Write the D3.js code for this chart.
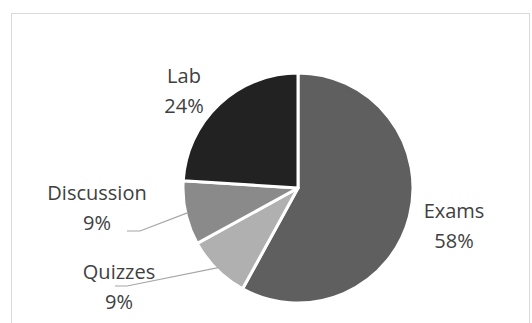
<!DOCTYPE html>
<html><head><meta charset="utf-8">
<script src="https://cdn.jsdelivr.net/npm/d3@7"></script>
<style>html,body{margin:0;padding:0;background:#fff;overflow:hidden}</style>
</head><body><svg id="c" width="532" height="323"></svg>
<script>
const categories = ["Exams", "Quizzes", "Discussion", "Lab"];
const values = [58, 9, 9, 24];
const colors = ["#5f5f5f", "#b0b0b0", "#8a8a8a", "#222222"];

// label layout: first-line baseline offsets from pie center, plus leader line start points
const labelLayout = {
  Exams: {dx: 156, dy: 30, leader: null},
  Quizzes: {dx: -179, dy: 91, leader: [[-183, 98], [-171, 98]]},
  Discussion: {dx: -201, dy: 12, leader: [[-171, 43], [-158, 43]]},
  Lab: {dx: -114, dy: -105, leader: null}
};

const svg = d3.select("#c");
svg.append("rect").attr("x", 11.5).attr("y", 13.5).attr("width", 518).attr("height", 330)
  .attr("fill", "#fff").attr("stroke", "#d9d9d9").attr("stroke-width", 1);

const cx = 298, cy = 188, r = 115;
const g = svg.append("g").attr("transform", `translate(${cx},${cy})`);
const data = categories.map((c, i) => ({name: c, value: values[i], color: colors[i]}));
const pie = d3.pie().value(d => d.value).sort(null);
const arc = d3.arc().innerRadius(0).outerRadius(r);
const arcs = pie(data);
g.selectAll("path.slice").data(arcs).enter().append("path")
  .attr("class", "slice").attr("d", arc)
  .attr("fill", d => d.data.color).attr("stroke", "#fff").attr("stroke-width", 3).attr("stroke-linejoin", "round");

const total = d3.sum(values);
arcs.forEach(a => {
  const L = labelLayout[a.data.name];
  if (L.leader) {
    const ang = (a.startAngle + a.endAngle) / 2;
    const ex = Math.sin(ang) * r * 0.98, ey = -Math.cos(ang) * r * 0.98;
    const pts = [L.leader[0], L.leader[1], [ex, ey]];
    g.append("path").attr("d", d3.line()(pts)).attr("fill", "none")
      .attr("stroke", "#a6a6a6").attr("stroke-width", 1.2);
  }
  const t = g.append("text").attr("text-anchor", "middle")
    .attr("font-family", "'Open Sans', sans-serif").attr("font-size", 20).attr("fill", "#404040")
    .attr("transform", `translate(${L.dx},${L.dy})`);
  t.append("tspan").attr("x", 0).attr("y", 0).text(a.data.name);
  t.append("tspan").attr("x", 0).attr("y", 29.5).text(Math.round(a.data.value / total * 100) + "%");
});
</script></body></html>
